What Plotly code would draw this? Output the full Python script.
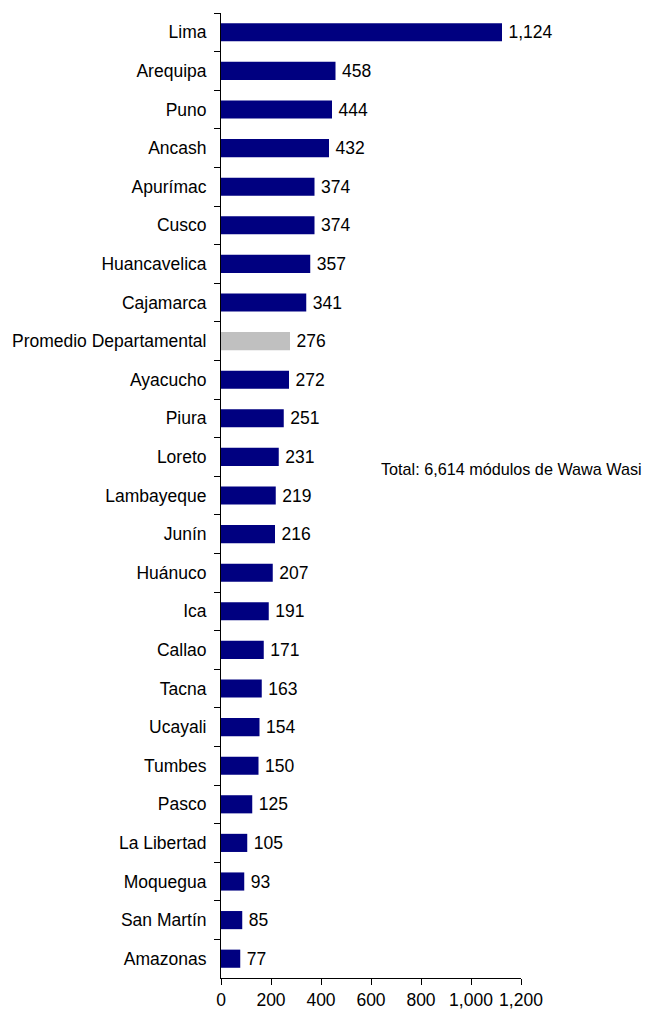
import plotly.graph_objects as go

departamentos = ["Lima", "Arequipa", "Puno", "Ancash", "Apurímac", "Cusco", "Huancavelica",
                 "Cajamarca", "Promedio Departamental", "Ayacucho", "Piura", "Loreto",
                 "Lambayeque", "Junín", "Huánuco", "Ica", "Callao", "Tacna", "Ucayali",
                 "Tumbes", "Pasco", "La Libertad", "Moquegua", "San Martín", "Amazonas"]
modulos = [1124, 458, 444, 432, 374, 374, 357, 341, 276, 272, 251, 231, 219, 216, 207,
           191, 171, 163, 154, 150, 125, 105, 93, 85, 77]
x_ticks = [0, 200, 400, 600, 800, 1000, 1200]
x_tick_labels = ["0", "200", "400", "600", "800", "1,000", "1,200"]

colors = ["#C0C0C0" if d == "Promedio Departamental" else "#000080" for d in departamentos]
labels = [f"\u2009{v:,}" for v in modulos]

FS = 17.5

fig = go.Figure(go.Bar(
    x=modulos, y=departamentos, orientation="h",
    marker=dict(color=colors, line=dict(width=0)),
    text=labels, textposition="outside", cliponaxis=False, constraintext="none",
    textfont=dict(family="Liberation Sans, Arial", size=FS, color="black"),
))

fig.update_layout(
    width=650, height=1004,
    margin=dict(l=213, r=137, t=5, b=34, autoexpand=False),
    paper_bgcolor="white", plot_bgcolor="white",
    showlegend=False, bargap=0.53,
    font=dict(family="Liberation Sans, Arial", size=FS, color="black"),
    xaxis=dict(range=[0, 1200], tickvals=x_ticks, ticktext=x_tick_labels,
               showgrid=False, zeroline=False, showline=True, linecolor="black",
               linewidth=1, ticks="outside", ticklen=6, tickcolor="black",
               tickfont=dict(size=FS), automargin=False),
    yaxis=dict(autorange="reversed", showgrid=False, showline=True, linecolor="black",
               linewidth=1, ticks="outside", ticklen=6, tickcolor="black",
               tickson="boundaries", tickfont=dict(size=FS), automargin=False,
               ticklabelstandoff=10),
    annotations=[dict(text="Total: 6,614 módulos de Wawa Wasi", xref="paper", yref="paper",
                      x=(371 - 213) / 300, y=0.527, xanchor="left", yanchor="middle",
                      showarrow=False, font=dict(size=16.2, color="black"))],
)

fig.write_html("out.html")
